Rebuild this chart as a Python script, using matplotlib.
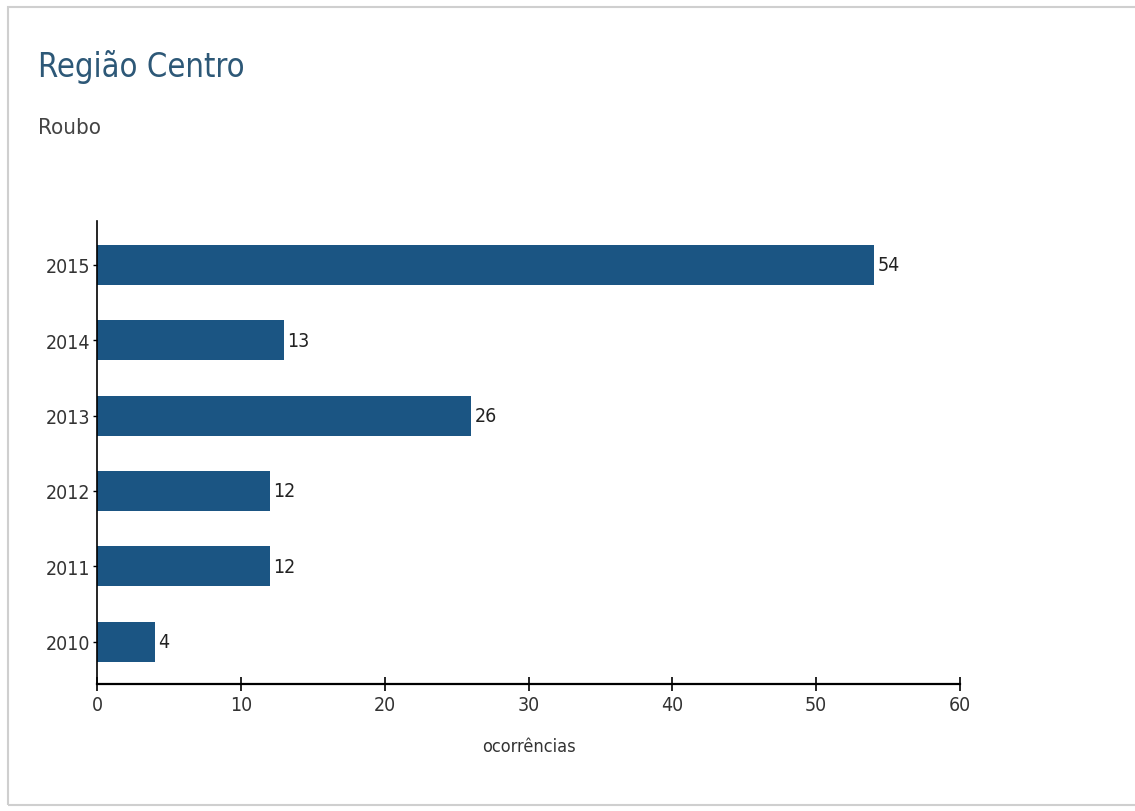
import matplotlib.pyplot as plt
from matplotlib.patches import Rectangle

anos = ["2010", "2011", "2012", "2013", "2014", "2015"]
ocorrencias = [4, 12, 12, 26, 13, 54]

titulo = "Região Centro"
subtitulo = "Roubo"
rotulo_x = "ocorrências"

plt.rcParams["font.family"] = ["DejaVu Sans"]
plt.rcParams["font.stretch"] = "condensed"

fig = plt.figure(figsize=(11.35, 8.12), dpi=100)

# moldura cinza
fig.patches.append(Rectangle((0.007, 0.008), 1.2, 0.982, transform=fig.transFigure,
                             fill=False, edgecolor="#cfcfcf", linewidth=1.5))

ax = fig.add_axes([0.0855, 0.1564, 0.7603, 0.5702])
pos = range(len(anos))
ax.barh(pos, ocorrencias, height=0.53, color="#1b5583")

for p, v in zip(pos, ocorrencias):
    ax.text(v + 0.25, p, str(v), va="center", ha="left", fontsize=14, color="#222222")

ax.set_xlim(0, 60)
ax.set_ylim(-0.56, 5.58)
ax.set_yticks(list(pos))
ax.set_yticklabels(anos)
ax.set_xticks([0, 10, 20, 30, 40, 50, 60])

for s in ["top", "right"]:
    ax.spines[s].set_visible(False)
ax.spines["left"].set_linewidth(1.2)
ax.spines["bottom"].set_linewidth(1.6)
ax.tick_params(axis="y", length=3, width=1, labelsize=14, labelcolor="#333333", pad=2)
ax.tick_params(axis="x", direction="inout", length=10, width=1.2, labelsize=14,
               labelcolor="#333333", pad=3)
ax.set_xlabel(rotulo_x, fontsize=13, color="#333333", labelpad=18)
ax.xaxis.set_label_coords(0.5, -0.115)

fig.text(0.0335, 0.918, titulo, fontsize=23.5, color="#2d5877", va="center", ha="left")
fig.text(0.0335, 0.842, subtitulo, fontsize=16, color="#444444", va="center", ha="left")

fig.savefig("out.png", dpi=100, facecolor="white")
